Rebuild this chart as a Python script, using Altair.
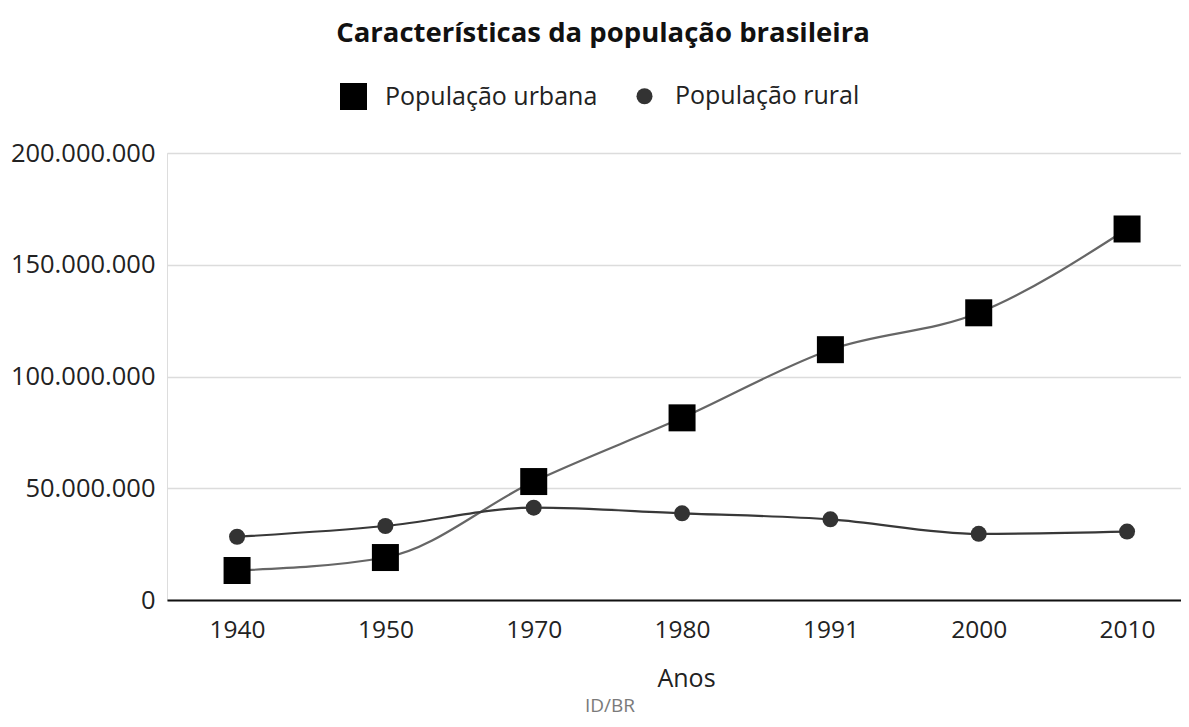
import altair as alt
import pandas as pd

anos = ["1940", "1950", "1970", "1980", "1991", "2000", "2010"]
urbana = [13_200_000, 19_000_000, 53_000_000, 81_500_000, 112_000_000, 128_500_000, 166_000_000]
rural = [28_300_000, 33_100_000, 41_300_000, 38_800_000, 36_100_000, 29_600_000, 30_600_000]
series = ["População urbana", "População rural"]
y_ticks = [0, 50_000_000, 100_000_000, 150_000_000, 200_000_000]

rows = []
for a, u, r in zip(anos, urbana, rural):
    rows.append({"Ano": a, "Serie": series[0], "Pop": u})
    rows.append({"Ano": a, "Serie": series[1], "Pop": r})
df = pd.DataFrame(rows)

FONT = "Open Sans"

x = alt.X(
    "Ano:O",
    sort=anos,
    scale=alt.Scale(type="point", padding=0.418, align=0.565),
    axis=alt.Axis(
        title="Anos", labelAngle=0, ticks=False, grid=False,
        domainColor="#111", domainWidth=2,
        labelFontSize=24.5, labelColor="#222", labelFont=FONT, labelPadding=18,
        titleFontSize=25, titleFontWeight="normal", titleFont=FONT, titleColor="#222",
        titlePadding=25, titleX=519,
    ),
)
y = alt.Y(
    "Pop:Q",
    scale=alt.Scale(domain=[0, 200_000_000]),
    axis=alt.Axis(
        values=y_ticks, title=None, ticks=False, domain=False,
        gridColor="#dcdcdc", gridWidth=1.5,
        labelExpr="replace(format(datum.value, ','), regexp(',', 'g'), '.')",
        labelFontSize=25.5, labelColor="#222", labelFont=FONT, labelPadding=12,
    ),
)

leg = alt.Legend(
    title=None, orient="none", legendX=173, legendY=-70, direction="horizontal",
    labelFontSize=25, labelFont=FONT, labelColor="#222", labelOffset=18,
    labelLimit=400, columnPadding=34, symbolStrokeWidth=0, symbolOpacity=1,
)

base = alt.Chart(df)

line_urbana = base.transform_filter(alt.datum.Serie == series[0]).mark_line(
    interpolate="monotone", strokeWidth=2.2, color="#666666"
).encode(x=x, y=y)

line_rural = base.transform_filter(alt.datum.Serie == series[1]).mark_line(
    interpolate="monotone", strokeWidth=2.2, color="#383838"
).encode(x=x, y=y)

points = base.mark_point(filled=True, opacity=1, strokeWidth=0).encode(
    x=x, y=y,
    color=alt.Color("Serie:N", scale=alt.Scale(domain=series, range=["#000000", "#333333"]), legend=leg),
    shape=alt.Shape("Serie:N", scale=alt.Scale(domain=series, range=["square", "circle"]), legend=leg),
    size=alt.Size("Serie:N", scale=alt.Scale(domain=series, range=[729, 256]), legend=leg),
)

fonte = alt.Chart(pd.DataFrame({"t": ["ID/BR"]})).mark_text(
    font=FONT, fontSize=19, color="#7a7a7a", baseline="alphabetic", align="center"
).encode(text="t:N", x=alt.value(443), y=alt.value(559))

chart = alt.layer(line_urbana, line_rural, points, fonte).properties(
    width=1014, height=447,
    title=alt.Title(
        "Características da população brasileira",
        font=FONT, fontSize=27.5, fontWeight="bold", color="#111",
        anchor="middle", dx=-71, offset=36,
    ),
    autosize=alt.AutoSizeParams(type="none"),
    padding={"left": 159, "top": 145, "right": 0, "bottom": 119},
).configure_view(stroke=None).configure(background="white")

chart.save("out.html", embed_options={"renderer": "svg", "actions": False})
